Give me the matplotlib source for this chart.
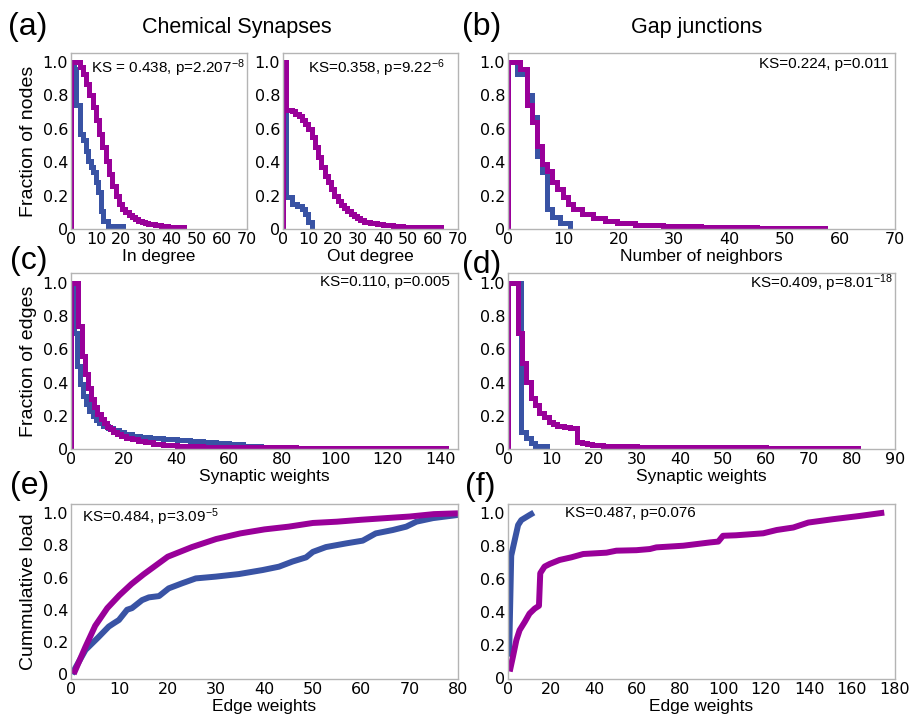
import matplotlib
matplotlib.use("Agg")
import matplotlib.pyplot as plt

W, H = 909, 717
BLUE = "#3953a4"
PURPLE = "#990099"
LAB = "Liberation Sans"

# ---------------- data ----------------
# (a) in-degree CCDF
a_in_blue_edges = [0, 1, 2.1, 3.4, 4.8, 6.1, 6.8, 8.1, 8.8, 10.1, 10.7, 12.1, 12.7, 14.7, 20.7]
a_in_blue_vals = [1.0, 0.96, 0.74, 0.57, 0.53, 0.47, 0.41, 0.37, 0.34, 0.28, 0.22, 0.11, 0.05, 0.02]
a_in_purple_edges = [0, 3.4, 4.7, 6.0, 7.3, 8.6, 9.9, 11.2, 12.5, 13.8, 15.1, 16.4, 17.7, 19.0,
                     20.3, 21.6, 22.9, 24.2, 25.5, 26.8, 28.1, 29.4, 30.7, 33.3, 35.9, 38.5, 41.1, 45]
a_in_purple_vals = [1.0, 0.97, 0.93, 0.87, 0.80, 0.73, 0.65, 0.57, 0.49, 0.41, 0.33, 0.26, 0.20,
                    0.15, 0.12, 0.10, 0.085, 0.07, 0.06, 0.05, 0.042, 0.036, 0.03, 0.024, 0.018,
                    0.013, 0.01]
# (a) out-degree CCDF
a_out_blue_edges = [0, 1, 3.5, 5.5, 7.5, 8.8, 10.1, 11.5]
a_out_blue_vals = [1.0, 0.19, 0.15, 0.14, 0.12, 0.09, 0.04]
a_out_purple_edges = [0, 1, 2.3, 3.6, 4.9, 6.2, 7.5, 8.8, 10.1, 11.4, 12.7, 14.0, 15.3, 16.6, 17.9,
                      19.2, 20.5, 21.8, 23.1, 24.4, 25.7, 27.0, 28.3, 29.6, 30.9, 32.2, 34.8, 37.4,
                      40, 44, 48, 53, 58, 63]
a_out_purple_vals = [1.0, 0.71, 0.71, 0.705, 0.69, 0.675, 0.655, 0.63, 0.60, 0.55, 0.49, 0.43,
                     0.37, 0.32, 0.28, 0.24, 0.20, 0.17, 0.145, 0.125, 0.105, 0.088, 0.075, 0.063,
                     0.053, 0.044, 0.035, 0.028, 0.022, 0.017, 0.014, 0.012, 0.01]
# (b) gap junction neighbours CCDF
b_blue_edges = [0, 1.6, 3.4, 4.3, 5.2, 6.1, 7.0, 7.9, 9.4, 11.2]
b_blue_vals = [1.0, 0.93, 0.80, 0.67, 0.44, 0.34, 0.12, 0.07, 0.035]
b_purple_edges = [0, 2.2, 3.4, 4.3, 5.2, 6.1, 7.0, 7.9, 8.8, 10.0, 10.9, 11.8, 13.3, 15.4, 17.5,
                  19.8, 23, 28, 35, 45, 57.3]
b_purple_vals = [1.0, 0.96, 0.74, 0.64, 0.50, 0.39, 0.35, 0.28, 0.24, 0.19, 0.15, 0.12, 0.09,
                 0.064, 0.045, 0.035, 0.025, 0.018, 0.012, 0.008]
# (c) chemical synaptic weights CCDF
c_blue_edges = [0, 1, 2.2, 3.4, 4.6, 5.8, 7.0, 8.2, 9.4, 10.6, 12, 14, 16, 18, 20, 23, 26, 30, 35,
                40, 45, 50, 55, 60, 65, 72]
c_blue_vals = [1.0, 0.70, 0.50, 0.39, 0.32, 0.27, 0.23, 0.20, 0.175, 0.155, 0.14, 0.125, 0.112,
               0.10, 0.09, 0.08, 0.072, 0.065, 0.06, 0.055, 0.05, 0.044, 0.038, 0.03, 0.02]
c_purple_edges = [0, 2.8, 4.0, 5.2, 6.4, 7.6, 8.8, 10.0, 11.2, 12.4, 13.6, 14.8, 16.0, 17.5, 19,
                  21, 23, 25.5, 28, 31, 35, 40, 50, 65, 85, 110, 142]
c_purple_vals = [1.0, 0.74, 0.56, 0.45, 0.37, 0.30, 0.25, 0.21, 0.18, 0.155, 0.135, 0.12, 0.105,
                 0.092, 0.08, 0.068, 0.058, 0.048, 0.04, 0.032, 0.025, 0.019, 0.014, 0.01, 0.008,
                 0.006]
# (d) gap junction synaptic weights CCDF
d_blue_edges = [0, 3.1, 4.3, 5.3, 6.3, 9.0]
d_blue_vals = [1.0, 0.10, 0.065, 0.035, 0.018]
d_purple_edges = [0, 2.3, 3.3, 4.3, 5.3, 6.3, 7.2, 8.4, 9.5, 10.5, 11.5, 13, 14.5, 16, 17.2, 18.4,
                  19.6, 22, 25, 30, 40, 60, 81.5]
d_purple_vals = [1.0, 0.70, 0.52, 0.405, 0.31, 0.265, 0.215, 0.19, 0.165, 0.148, 0.14, 0.132,
                 0.125, 0.045, 0.035, 0.028, 0.024, 0.02, 0.017, 0.013, 0.01, 0.008]
# (e) cumulative load, chemical
e_blue_x = [0.2, 3, 5.7, 7.8, 8.8, 9.9, 11.6, 12.6, 14.7, 16.1, 18.2, 20.2, 23, 25.8, 29.9, 34.7,
            39.6, 43, 45.8, 48.6, 50, 52.7, 56.9, 60.3, 63, 66.5, 69.3, 71.4, 74.8, 80]
e_blue_y = [0.0, 0.15, 0.23, 0.295, 0.315, 0.336, 0.40, 0.41, 0.46, 0.477, 0.485, 0.533, 0.565,
            0.595, 0.606, 0.622, 0.647, 0.668, 0.70, 0.726, 0.76, 0.79, 0.813, 0.83, 0.875, 0.896,
            0.917, 0.948, 0.97, 0.99]
e_purple_x = [0.55, 3, 5, 7.5, 10, 12.5, 15, 20, 25, 30, 35, 40, 45, 50, 55, 60, 65, 70, 75, 80]
e_purple_y = [0.0, 0.17, 0.30, 0.41, 0.49, 0.56, 0.62, 0.73, 0.79, 0.84, 0.875, 0.90, 0.917,
              0.94, 0.948, 0.96, 0.97, 0.98, 0.995, 1.0]
# (f) cumulative load, gap junctions
f_blue_x = [0.5, 1.5, 4.7, 6.2, 10, 12]
f_blue_y = [0.13, 0.74, 0.925, 0.955, 0.985, 1.0]
f_purple_x = [0.8, 2.3, 3.9, 5.4, 7.8, 10, 12.4, 14.4, 15, 17, 19.4, 24, 29.5, 35, 45.8, 50.4,
              59.7, 66, 69, 81.5, 94, 97.8, 100, 106, 118.7, 125, 132.7, 139.7, 151, 163.7, 175]
f_purple_y = [0.04, 0.13, 0.23, 0.29, 0.34, 0.39, 0.42, 0.437, 0.634, 0.674, 0.69, 0.714, 0.73,
              0.75, 0.758, 0.77, 0.773, 0.78, 0.79, 0.80, 0.82, 0.825, 0.86, 0.863, 0.875, 0.895,
              0.91, 0.94, 0.96, 0.98, 1.0]

ytick_vals = [0, 0.2, 0.4, 0.6, 0.8, 1.0]
ytick_labels = ["0", "0.2", "0.4", "0.6", "0.8", "1.0"]

# ---------------- figure ----------------
plt.rcParams["font.family"] = "DejaVu Sans"
plt.rcParams["mathtext.default"] = "regular"
fig = plt.figure(figsize=(W / 100, H / 100), dpi=100)


def add_ax(l, t, r, b):
    return fig.add_axes([l / W, 1 - b / H, (r - l) / W, (b - t) / H])


def style(ax, xlim, xticks, ylim):
    ax.set_xlim(*xlim)
    ax.set_ylim(*ylim)
    ax.set_xticks(xticks)
    ax.set_xticklabels([str(t) for t in xticks])
    ax.set_yticks(ytick_vals)
    ax.set_yticklabels(ytick_labels)
    ax.tick_params(length=0, labelsize=11.5, pad=2)
    for s in ax.spines.values():
        s.set_color("#b4b4b4")
        s.set_linewidth(1.0)


def stairs(ax, edges, vals, color):
    ax.stairs(vals, edges, baseline=0, color=color, lw=3.6)


axA1 = add_ax(71, 53, 247, 229)
axA2 = add_ax(283, 53, 458, 229)
axB = add_ax(508, 53, 895, 229)
axC = add_ax(71, 273, 458, 449)
axD = add_ax(508, 273, 895, 449)
axE = add_ax(71, 504, 458, 679)
axF = add_ax(508, 504, 895, 679)

stairs(axA1, a_in_blue_edges, a_in_blue_vals, BLUE)
stairs(axA1, a_in_purple_edges, a_in_purple_vals, PURPLE)
stairs(axA2, a_out_blue_edges, a_out_blue_vals, BLUE)
stairs(axA2, a_out_purple_edges, a_out_purple_vals, PURPLE)
stairs(axB, b_blue_edges, b_blue_vals, BLUE)
stairs(axB, b_purple_edges, b_purple_vals, PURPLE)
stairs(axC, c_blue_edges, c_blue_vals, BLUE)
stairs(axC, c_purple_edges, c_purple_vals, PURPLE)
stairs(axD, d_blue_edges, d_blue_vals, BLUE)
stairs(axD, d_purple_edges, d_purple_vals, PURPLE)

axE.plot(e_blue_x, e_blue_y, color=BLUE, lw=4.3, solid_capstyle="butt")
axE.plot(e_purple_x, e_purple_y, color=PURPLE, lw=4.3, solid_capstyle="butt")
axF.plot(f_blue_x, f_blue_y, color=BLUE, lw=4.3, solid_capstyle="butt")
axF.plot(f_purple_x, f_purple_y, color=PURPLE, lw=4.3, solid_capstyle="butt")

style(axA1, (0, 70), list(range(0, 71, 10)), (0, 1.054))
style(axA2, (0, 70), list(range(0, 71, 10)), (0, 1.054))
style(axB, (0, 70), list(range(0, 71, 10)), (0, 1.054))
style(axC, (0, 146.5), list(range(0, 141, 20)), (0, 1.06))
style(axD, (0, 90), list(range(0, 91, 10)), (0, 1.06))
style(axE, (0, 80), list(range(0, 81, 10)), (-0.031, 1.058))
style(axF, (0, 180), list(range(0, 181, 20)), (-0.005, 1.052))

xl = dict(fontsize=12.5, family=LAB, labelpad=1.5)
axA1.set_xlabel("In degree", **xl)
axA2.set_xlabel("Out degree", **xl)
axB.set_xlabel("Number of neighbors", **xl)
axC.set_xlabel("Synaptic weights", **xl)
axD.set_xlabel("Synaptic weights", **xl)
axE.set_xlabel("Edge weights", **xl)
axF.set_xlabel("Edge weights", **xl)

yl = dict(fontsize=14, family=LAB, labelpad=4)
axA1.set_ylabel("Fraction of nodes", **yl)
axC.set_ylabel("Fraction of edges", **yl)
axE.set_ylabel("Cummulative load", **yl)


def ftext(px, py, s, **kw):
    fig.text(px / W, 1 - py / H, s, **kw)


ks = dict(fontsize=11, family=LAB, va="center")
ftext(245, 68, r"KS = 0.438, p=2.207$^{\mathregular{-8}}$", ha="right", **ks)
ftext(445, 68, r"KS=0.358, p=9.22$^{\mathregular{-6}}$", ha="right", **ks)
ftext(889, 64, "KS=0.224, p=0.011", ha="right", **ks)
ftext(450, 282, "KS=0.110, p=0.005", ha="right", **ks)
ftext(893, 283, r"KS=0.409, p=8.01$^{\mathregular{-18}}$", ha="right", **ks)
ftext(82, 517, r"KS=0.484, p=3.09$^{\mathregular{-5}}$", ha="left", **ks)
ftext(565, 513, "KS=0.487, p=0.076", ha="left", **ks)

tt = dict(fontsize=15.5, family=LAB, ha="center", va="center")
ftext(237, 27, "Chemical Synapses", **tt)
ftext(697, 27, "Gap junctions", **tt)

pl = dict(fontsize=23, family=LAB, ha="left", va="center")
ftext(8, 27, "(a)", **pl)
ftext(462, 27, "(b)", **pl)
ftext(10, 261, "(c)", **pl)
ftext(462, 265, "(d)", **pl)
ftext(10, 486, "(e)", **pl)
ftext(465, 487, "(f)", **pl)

fig.savefig("out.png", dpi=100, facecolor="white")
